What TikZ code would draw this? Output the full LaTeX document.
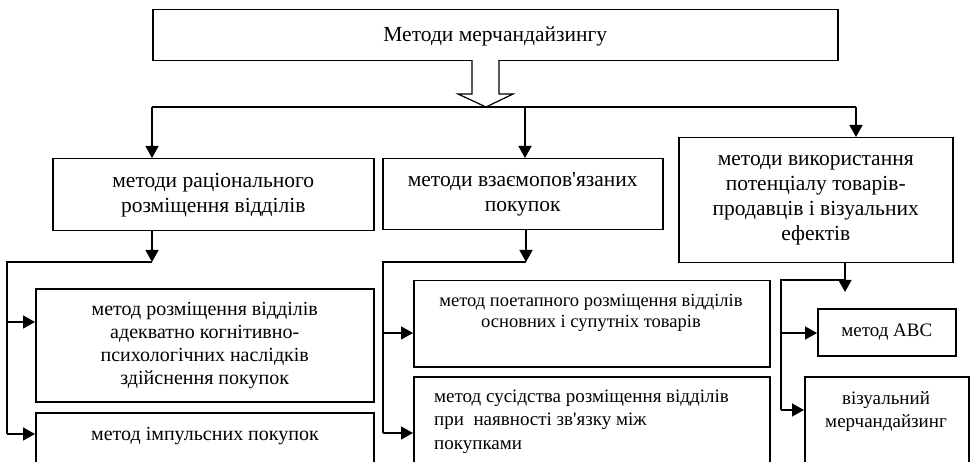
\documentclass[tikz,border=0pt]{standalone}
\usepackage{fontspec}
\setmainfont{Liberation Serif}[Ligatures=TeXOff]
\usetikzlibrary{arrows.meta,calc}
\begin{document}
\begin{tikzpicture}[x=1pt,y=-1pt,
  box/.style={draw,line width=1.5pt,rectangle,inner sep=0pt,anchor=north west},
  wire/.style={line width=1.4pt},
  arr/.style={wire,-{Triangle[length=12pt,width=13pt]}},
  hollow/.style={line width=1.2pt,fill=white,line join=miter},
  lbl/.style={inner sep=0pt,align=center},
  big/.style={lbl,font=\fontsize{21.5}{25}\selectfont},
  mid/.style={lbl,font=\fontsize{20}{23}\selectfont},
  small/.style={lbl,font=\fontsize{18.5}{21}\selectfont}]
\clip (0,0) rectangle (974,462);

% boxes
\node[box,minimum width=685pt,minimum height=51pt]  (top) at (152,9) {};
\node[box,minimum width=321pt,minimum height=72pt]  (rat) at (52,158) {};
\node[box,minimum width=280pt,minimum height=71pt]  (vz)  at (382,158) {};
\node[box,minimum width=274pt,minimum height=125pt] (vik) at (678,137) {};
\node[box,minimum width=338pt,minimum height=113pt] (kog) at (35,288) {};
\node[box,minimum width=338pt,minimum height=80pt]  (imp) at (35,412) {};
\node[box,minimum width=356pt,minimum height=86pt]  (poe) at (413,280) {};
\node[box,minimum width=356pt,minimum height=100pt] (sus) at (413,376) {};
\node[box,minimum width=138pt,minimum height=47pt]  (abc) at (817,308) {};
\node[box,minimum width=164pt,minimum height=100pt] (viz) at (804,376) {};

% labels
\node[big] (top-t) at ($(top.center)+(0,1)$) {Методи мерчандайзингу};
\node[big] (rat-t) at (rat.center) {методи раціонального\\розміщення відділів};
\node[big] (vz-t)  at (vz.center)  {методи взаємопов'язаних\\покупок};
\node[big] (vik-t) at (vik.center) {методи використання\\потенціалу товарів-\\продавців і візуальних\\ефектів};
\node[mid] (kog-t) at (kog.center) {метод розміщення відділів\\адекватно когнітивно-\\психологічних наслідків\\здійснення покупок};
\node[mid] (imp-t) at (205,436) {метод імпульсних покупок};
\node[small] (poe-t) at (591,312.5) {метод поетапного розміщення відділів\\основних і супутніх товарів};
\node[mid,align=left,anchor=west,font=\fontsize{19}{23.5}\selectfont] (sus-t) at (434,421.5)
  {метод сусідства розміщення відділів\\при\ \ наявності зв'язку між\\покупками};
\node[mid,font=\fontsize{19}{23}\selectfont] (abc-t) at (abc.center) {метод АВС};
\node[mid,font=\fontsize{19}{23}\selectfont] (viz-t) at (886,411.5) {візуальний\\мерчандайзинг};

% junction points
\coordinate (hub) at (486,107);
\coordinate (busL) at (152,107);
\coordinate (busM) at (525,107);
\coordinate (busR) at (856,107);
\coordinate (jL) at (152,262);
\coordinate (kL) at (7,262);
\coordinate (jM) at (526,262);
\coordinate (kM) at (383,262);
\coordinate (jR) at (845,280);
\coordinate (kR) at (781,280);
\coordinate (tR) at (845,292);

% hollow arrow from the title box
\draw[hollow] ($(hub)+(-14,-47)$) -- ($(hub)+(-14,-13)$) -- ($(hub)+(-28,-13)$)
  -- (hub) -- ($(hub)+(27,-13)$) -- ($(hub)+(13,-13)$) -- ($(hub)+(13,-47)$);

% distribution bus
\draw[wire] (busL) -- (busR);
\draw[arr] (busL) -- (busL |- rat.north);
\draw[arr] (busM) -- (busM |- vz.north);
\draw[arr] (busR) -- (busR |- vik.north);

% left branch
\draw[arr] (jL |- rat.south) -- (jL);
\draw[wire] (jL) -- (kL) -- (7,434);
\draw[arr] (7,322) -- (kog.west |- 0,322);
\draw[arr] (7,434) -- (imp.west |- 0,434);

% middle branch
\draw[arr] (jM |- vz.south) -- (jM);
\draw[wire] (jM) -- (kM) -- (383,433);
\draw[arr] (383,333) -- (poe.west |- 0,333);
\draw[arr] (383,433) -- (sus.west |- 0,433);

% right branch
\draw[arr] (jR |- vik.south) -- (tR);
\draw[wire] (jR) -- (kR) -- (781,410);
\draw[arr] (781,333) -- (abc.west |- 0,333);
\draw[arr] (781,410) -- (viz.west |- 0,410);
\end{tikzpicture}
\end{document}
